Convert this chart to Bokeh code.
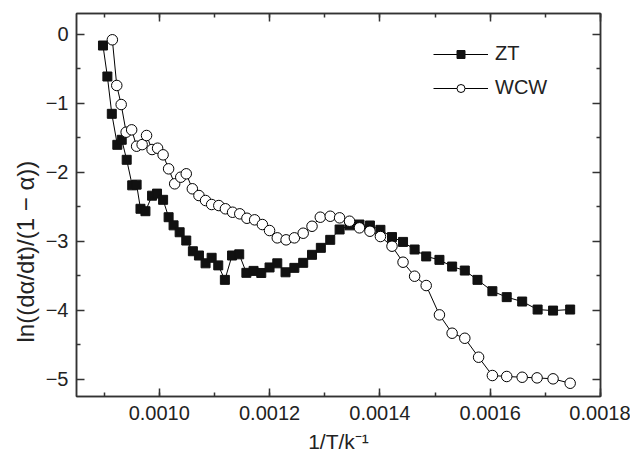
from bokeh.plotting import figure
from bokeh.models import (Range1d, LinearAxis, SingleIntervalTicker, NumeralTickFormatter,
                          FixedTicker, Legend, LegendItem, CustomJSTickFormatter, Title)
from bokeh.embed import file_html
from bokeh.resources import INLINE

# ---- data ----
zt_x = [0.000898, 0.000906, 0.000914, 0.000924, 0.000932, 0.000941, 0.000951, 0.000959,
        0.000966, 0.000975, 0.000987, 0.000996, 0.001007, 0.001017, 0.001026, 0.001037,
        0.001049, 0.001061, 0.001072, 0.001084, 0.001095, 0.001107, 0.001119, 0.001132,
        0.001145, 0.001158, 0.001171, 0.001185, 0.001200, 0.001214, 0.001229, 0.001245,
        0.001261, 0.001277, 0.001293, 0.001310, 0.001327, 0.001345, 0.001363, 0.001382,
        0.001401, 0.001422, 0.001442, 0.001463, 0.001484, 0.001508, 0.001531, 0.001554,
        0.001577, 0.001604, 0.001630, 0.001658, 0.001686, 0.001714, 0.001745]
zt_y = [-0.164, -0.613, -1.154, -1.603, -1.53, -1.82, -2.19, -2.18,
        -2.53, -2.565, -2.34, -2.31, -2.40, -2.652, -2.77, -2.87,
        -2.99, -3.145, -3.207, -3.32, -3.24, -3.35, -3.56, -3.207,
        -3.19, -3.458, -3.43, -3.46, -3.38, -3.32, -3.45, -3.386,
        -3.313, -3.197, -3.096, -2.98, -2.83, -2.77, -2.758, -2.772,
        -2.835, -2.94, -3.01, -3.12, -3.22, -3.27, -3.367, -3.425,
        -3.56, -3.724, -3.81, -3.874, -3.99, -4.005, -3.99]

wcw_x = [0.000915, 0.000923, 0.000931, 0.000940, 0.000950, 0.000959, 0.000969, 0.000977,
         0.000987, 0.000997, 0.001007, 0.001017, 0.001028, 0.001039, 0.001049, 0.001060,
         0.001072, 0.001084, 0.001095, 0.001108, 0.001120, 0.001133, 0.001146, 0.001159,
         0.001173, 0.001187, 0.001200, 0.001214, 0.001230, 0.001245, 0.001261, 0.001277,
         0.001292, 0.001310, 0.001327, 0.001345, 0.001363, 0.001382, 0.001401, 0.001422,
         0.001442, 0.001463, 0.001484, 0.001508, 0.001531, 0.001554, 0.001579, 0.001604,
         0.001630, 0.001658, 0.001685, 0.001714, 0.001745]
wcw_y = [-0.081, -0.743, -1.019, -1.42, -1.386, -1.623, -1.60, -1.468,
         -1.671, -1.652, -1.748, -1.951, -2.168, -2.072, -2.023, -2.24,
         -2.338, -2.41, -2.468, -2.483, -2.53, -2.58, -2.603, -2.667,
         -2.69, -2.758, -2.845, -2.951, -2.98, -2.951, -2.884, -2.783,
         -2.652, -2.638, -2.661, -2.71, -2.806, -2.855, -2.932, -3.072,
         -3.304, -3.507, -3.642, -4.067, -4.333, -4.406, -4.681, -4.946,
         -4.96, -4.971, -4.98, -4.994, -5.058]

series_names = ["ZT", "WCW"]
y_ticks = [0, -1, -2, -3, -4, -5]
y_minor = [-0.5, -1.5, -2.5, -3.5, -4.5]
y_tick_labels = ["0", "\u22121", "\u22122", "\u22123", "\u22124", "\u22125"]
x_label = "1/T/k\u207b\u00b9"
y_label = "ln((d\u03b1/dt)/(1 \u2212 \u03b1))"

FONT = "Liberation Sans"
FS = "20px"
AXC = "#333333"
TXT = "#222222"

p = figure(width=630, height=463, output_backend="svg", toolbar_location=None,
           x_range=Range1d(0.00085, 0.00180001), y_range=Range1d(-5.25, 0.3),
           min_border_left=76, min_border_right=30, min_border_top=13, min_border_bottom=67)
p.xgrid.visible = False
p.ygrid.visible = False
p.outline_line_color = AXC
p.outline_line_width = 1.5
p.background_fill_color = "white"
p.border_fill_color = "white"

def style_axis(ax, show_labels):
    ax.axis_line_color = AXC
    ax.axis_line_width = 1.5
    ax.major_tick_line_color = AXC
    ax.minor_tick_line_color = AXC
    ax.major_tick_line_width = 1.5
    ax.minor_tick_line_width = 1.5
    ax.major_tick_in = 8
    ax.major_tick_out = 0
    ax.minor_tick_in = 4
    ax.minor_tick_out = 0
    ax.major_label_text_font = FONT
    ax.major_label_text_color = TXT
    if show_labels:
        ax.major_label_text_font_size = FS
    else:
        ax.formatter = CustomJSTickFormatter(code="return '';")
        ax.major_label_text_font_size = "0px"
        ax.major_label_standoff = 0

xa = p.xaxis[0]
xa.ticker = SingleIntervalTicker(interval=0.0002, num_minor_ticks=2)
xa.formatter = NumeralTickFormatter(format="0.0000")
style_axis(xa, True)
xa.major_label_standoff = 9
xa.axis_label = x_label
xa.axis_label_text_font = FONT
xa.axis_label_text_font_size = "21px"
xa.axis_label_text_font_style = "normal"
xa.axis_label_text_color = TXT
xa.axis_label_standoff = 7

ya = p.yaxis[0]
ya.ticker = FixedTicker(ticks=y_ticks, minor_ticks=y_minor)
ya.major_label_overrides = {t: l for t, l in zip(y_ticks, y_tick_labels)}
style_axis(ya, True)
ya.major_label_standoff = 8

ytitle = Title(text=y_label, align="left", offset=54, standoff=8,
               text_font=FONT, text_font_size="24px", text_font_style="normal",
               text_color=TXT)
p.add_layout(ytitle, "left")

top = LinearAxis(ticker=SingleIntervalTicker(interval=0.0002, num_minor_ticks=2))
style_axis(top, False)
p.add_layout(top, "above")
right = LinearAxis(ticker=FixedTicker(ticks=y_ticks, minor_ticks=y_minor))
style_axis(right, False)
p.add_layout(right, "right")

l1 = p.line(zt_x, zt_y, line_color="black", line_width=1)
s1 = p.scatter(zt_x, zt_y, marker="square", size=9, fill_color="#111111", line_color="#111111")
l2 = p.line(wcw_x, wcw_y, line_color="black", line_width=1)
s2 = p.scatter(wcw_x, wcw_y, marker="circle", size=10.5, fill_color="white", line_color="black",
               line_width=1)

legend = Legend(items=[LegendItem(label=series_names[0], renderers=[l1, s1]),
                       LegendItem(label=series_names[1], renderers=[l2, s2])],
                location=(357, 297), orientation="vertical")
legend.border_line_color = None
legend.background_fill_alpha = 0
legend.padding = 0
legend.margin = 0
legend.spacing = 11
legend.glyph_width = 55
legend.glyph_height = 20
legend.label_height = 20
legend.label_standoff = 7
legend.label_text_font = FONT
legend.label_text_font_size = FS
legend.label_text_color = TXT
p.add_layout(legend, "center")

open("out.html", "w").write(file_html(p, INLINE))
